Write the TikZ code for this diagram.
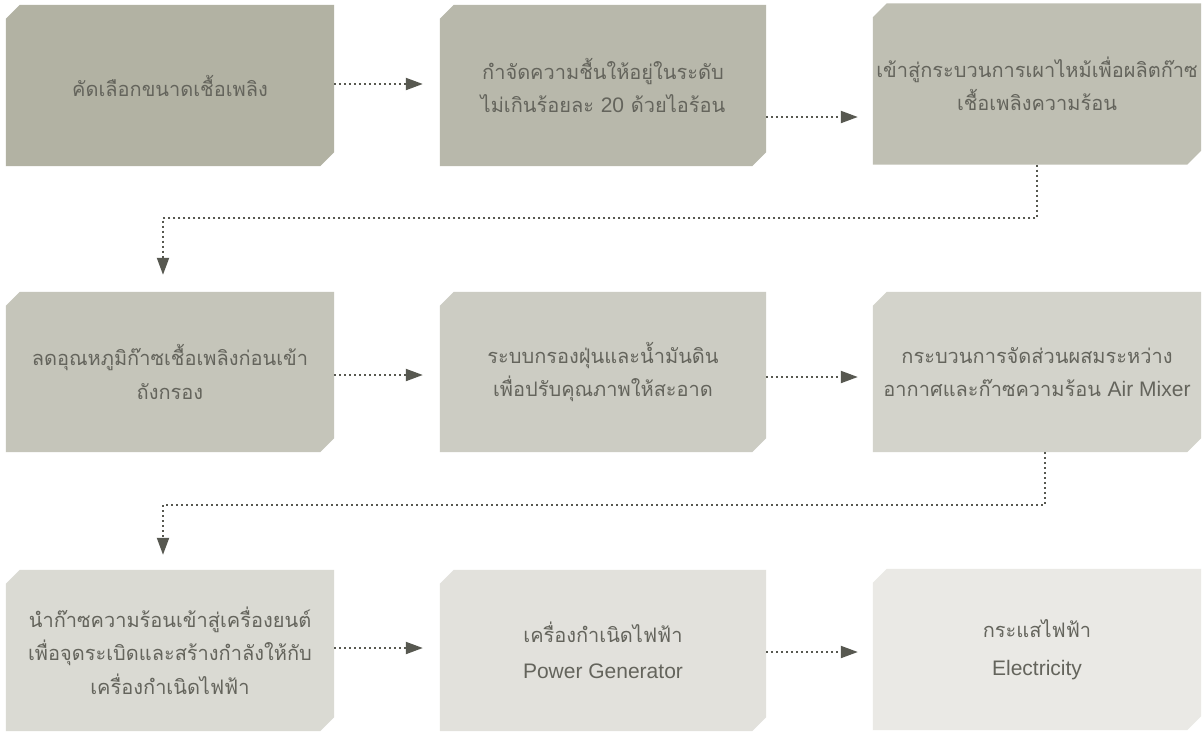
\documentclass[tikz,border=0pt]{standalone}
\usepackage{fontspec}
\newfontfamily\thai[Script=Thai]{Loma}
\newfontfamily\lat{Liberation Sans}
\newcommand\latin[1]{{\lat\fontsize{21}{34}\selectfont #1}}
\usetikzlibrary{arrows.meta,backgrounds}
\definecolor{cA}{HTML}{B2B2A3}
\definecolor{cB}{HTML}{B8B8AB}
\definecolor{cC}{HTML}{BFBFB3}
\definecolor{cD}{HTML}{C5C5BA}
\definecolor{cE}{HTML}{CCCCC3}
\definecolor{cF}{HTML}{D3D3CB}
\definecolor{cG}{HTML}{DADAD3}
\definecolor{cH}{HTML}{E2E1DC}
\definecolor{cI}{HTML}{EAE9E5}
\definecolor{txt}{HTML}{64645C}
\definecolor{arr}{HTML}{575850}
\tikzset{
  stepbox/.style={rectangle, inner sep=0pt, minimum width=328pt, minimum height=161pt,
    draw=none, align=center, text=txt, font=\thai\fontsize{20}{33.5}\selectfont},
  flow/.style={draw=arr, line width=2pt, dash pattern=on 2pt off 3pt,
    -{Triangle[length=17pt,width=12pt,fill=arr]}}
}
\newcommand\chamfer[2]{%
  \fill[#2] ([xshift=14pt]#1.north west) -- (#1.north east) -- ([yshift=14pt]#1.south east)
    -- ([xshift=-14pt]#1.south east) -- (#1.south west) -- ([yshift=-14pt]#1.north west) -- cycle;}
\begin{document}
\begin{tikzpicture}[x=1pt,y=-1pt]
\useasboundingbox (0,0) rectangle (1204,731);
\node[stepbox] (b1) at (170,85.5) {คัดเลือกขนาดเชื้อเพลิง};
\node[stepbox, minimum width=326pt] (b2) at (603,85.5) {กำจัดความชื้นให้อยู่ในระดับ\\ไม่เกินร้อยละ \latin{20} ด้วยไอร้อน};
\node[stepbox] (b3) at (1037,84) {เข้าสู่กระบวนการเผาไหม้เพื่อผลิตก๊าซ\\เชื้อเพลิงความร้อน};
\node[stepbox, minimum height=160pt] (b4) at (170,372) {ลดอุณหภูมิก๊าซเชื้อเพลิงก่อนเข้า\\ถังกรอง};
\node[stepbox, minimum width=326pt, minimum height=160pt] (b5) at (603,372) {ระบบกรองฝุ่นและน้ำมันดิน\\เพื่อปรับคุณภาพให้สะอาด};
\node[stepbox, minimum height=160pt] (b6) at (1037,372) {กระบวนการจัดส่วนผสมระหว่าง\\อากาศและก๊าซความร้อน \latin{Air Mixer}};
\node[stepbox] (b7) at (170,650.5) {นำก๊าซความร้อนเข้าสู่เครื่องยนต์\\เพื่อจุดระเบิดและสร้างกำลังให้กับ\\เครื่องกำเนิดไฟฟ้า};
\node[stepbox, minimum width=326pt] (b8) at (603,650.5) {เครื่องกำเนิดไฟฟ้า\\[2pt]\latin{Power Generator}};
\node[stepbox] (b9) at (1037,649.5) {กระแสไฟฟ้า\\[4pt]\latin{Electricity}};
\begin{scope}[on background layer]
\fill[white] (0,0) rectangle (1204,731);
\chamfer{b1}{cA}
\chamfer{b2}{cB}
\chamfer{b3}{cC}
\chamfer{b4}{cD}
\chamfer{b5}{cE}
\chamfer{b6}{cF}
\chamfer{b7}{cG}
\chamfer{b8}{cH}
\chamfer{b9}{cI}
\end{scope}
% horizontal arrows
\draw[flow, shorten >=17pt] ([yshift=1.5pt]b1.east) -- ([yshift=1.5pt]b1.east -| b2.west);
\draw[flow, shorten >=15pt] ([yshift=-31.5pt]b2.east) -- ([yshift=-31.5pt]b2.east -| b3.west);
\draw[flow, shorten >=17pt] ([yshift=-3pt]b4.east) -- ([yshift=-3pt]b4.east -| b5.west);
\draw[flow, shorten >=15pt] ([yshift=-5pt]b5.east) -- ([yshift=-5pt]b5.east -| b6.west);
\draw[flow, shorten >=17pt] ([yshift=2.5pt]b7.east) -- ([yshift=2.5pt]b7.east -| b8.west);
\draw[flow, shorten >=15pt] ([yshift=-1.5pt]b8.east) -- ([yshift=-1.5pt]b8.east -| b9.west);
% row connectors
\coordinate (k1) at (1037,218);
\coordinate (k2) at (1045,505);
\draw[flow, shorten >=17pt] (b3.south) -- (k1) -| ([xshift=-7pt]b4.north);
\draw[flow, shorten >=15pt] ([xshift=8pt]b6.south) -- (k2) -| ([xshift=-7pt]b7.north);
\end{tikzpicture}
\end{document}
